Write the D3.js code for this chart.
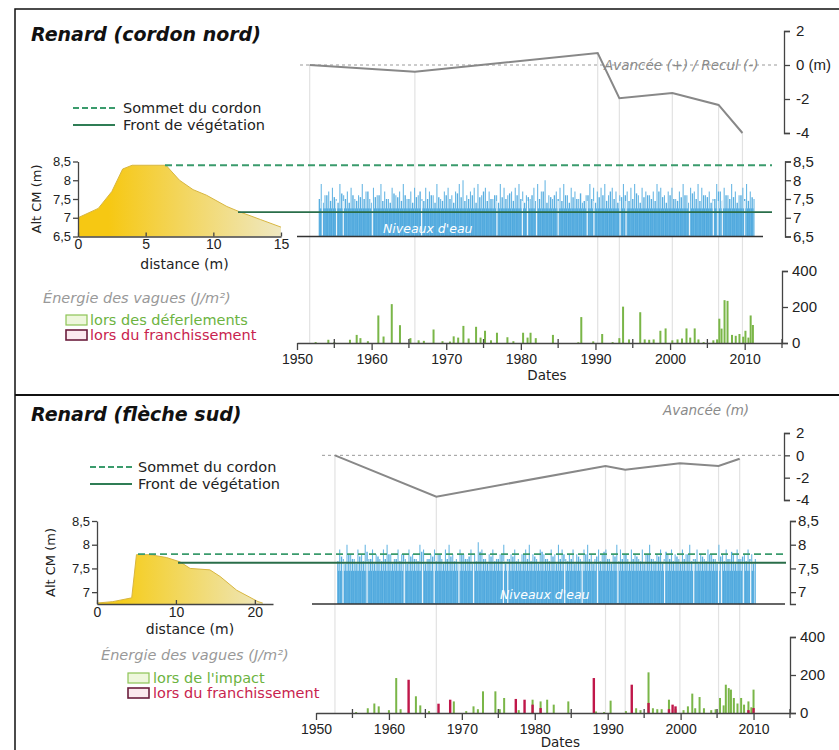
<!DOCTYPE html>
<html>
<head>
<meta charset="utf-8">
<script src="https://cdn.jsdelivr.net/npm/d3@7"></script>
<style>
  body { margin: 0; background: #fff; }
  svg { font-family: "DejaVu Sans", "Liberation Sans", Arial, sans-serif; }
  .axis path, .axis line { stroke: #444; stroke-width: 1.3; }
  .axis text { fill: #222; font-size: 14px; }
</style>
</head>
<body>
<div id="chart"></div>
<script>
// ---------- tick labels (shared)
const dateTicks = [1950, 1960, 1970, 1980, 1990, 2000, 2010];
const minorDateTicks = [1955, 1965, 1975, 1985, 1995, 2005, 2015];
const shoreTicks = [2, 0, -2, -4];
const energyTicks = [0, 200, 400];

// ---------- panel 1 : cordon nord
const nordShoreYears = [1951.7, 1965.8, 1990.3, 1993.2, 2000.3, 2006.5, 2009.7];
const nordShoreValues = [0, -0.4, 0.7, -1.95, -1.65, -2.35, -4.0];

const nordProfileDist = [0, 1.5, 2.5, 3.3, 4, 6.5, 7.5, 8.5, 9.5, 11, 12, 13.5, 15];
const nordProfileAlt = [7.0, 7.25, 7.7, 8.3, 8.4, 8.4, 8.0, 7.75, 7.6, 7.3, 7.15, 6.95, 6.75];
const nordAltTicks = [6.5, 7, 7.5, 8, 8.5];
const nordDistTicks = [0, 5, 10, 15];

const nordCrest = 8.4;
const nordVegetation = 7.15;

// water levels : a high peak and a lower one every half year from 1953, over a base level
const nordWaterStart = 1953;
const nordWaterBase = 7.25;
const nordWaterPeaks = [
  7.9, 7.6, 7.7, 7.8, 7.5, 7.9, 7.6, 7.7, 7.8, 7.5, 7.6, 7.9, 7.7, 7.5, 7.8, 7.6,
  7.9, 7.7, 7.5, 7.8, 7.6, 7.7, 7.9, 7.5, 7.7, 7.8, 7.6, 7.5, 7.8, 7.7, 7.6, 7.9,
  7.5, 7.7, 7.8, 7.6, 7.7, 7.9, 8.0, 7.6, 7.7, 7.8, 7.9, 7.6, 7.8, 7.7, 7.5, 7.6,
  7.9, 7.8, 7.6, 7.7, 7.8, 7.9, 7.7, 7.6, 7.5, 7.8, 7.9, 7.7, 8.0, 7.6, 7.5, 7.7,
  7.8, 7.9, 7.6, 7.8, 7.7, 7.5, 7.4, 7.6, 7.9, 7.8, 7.7, 7.8, 7.9, 7.6, 7.8, 7.7,
  7.6, 7.9, 7.7, 7.8, 7.9, 7.6, 7.8, 7.7, 7.6, 7.7, 7.9, 7.8, 7.6, 7.7, 7.8, 7.5,
  7.7, 7.9, 7.6, 7.8, 7.7, 7.9, 7.8, 7.6, 7.7, 7.5, 7.9, 7.7, 7.8, 7.6, 7.9, 7.7,
  7.6, 7.8, 7.9, 7.7, 7.5
];
const nordWaterLows = [
  7.5, 7.4, 7.6, 7.45, 7.55, 7.4, 7.65, 7.5, 7.4, 7.6, 7.45, 7.55, 7.5, 7.7, 7.4, 7.55,
  7.6, 7.45, 7.5, 7.4, 7.65, 7.55, 7.45, 7.6, 7.5, 7.4, 7.55, 7.7, 7.45, 7.5, 7.6, 7.4,
  7.55, 7.45, 7.6, 7.5, 7.4, 7.65, 7.55, 7.45, 7.5, 7.6, 7.4, 7.55, 7.7, 7.45, 7.5, 7.6,
  7.4, 7.55, 7.5, 7.65, 7.45, 7.6, 7.5, 7.4, 7.55, 7.6, 7.45, 7.5, 7.7, 7.4, 7.55, 7.6,
  7.5, 7.45, 7.6, 7.4, 7.55, 7.5, 7.65, 7.45, 7.6, 7.5, 7.4, 7.55, 7.6, 7.45, 7.7, 7.5,
  7.4, 7.55, 7.6, 7.45, 7.5, 7.65, 7.4, 7.55, 7.6, 7.5, 7.45, 7.7, 7.55, 7.4, 7.6, 7.5,
  7.45, 7.55, 7.6, 7.4, 7.65, 7.5, 7.45, 7.6, 7.55, 7.4, 7.5, 7.7, 7.45, 7.6, 7.5, 7.55,
  7.4, 7.6, 7.5, 7.45, 7.55
];
const nordWaterGaps = [1953.4, 1955.3, 1956.2, 1960.1, 1966.7, 1976.8, 1980.2, 1980.9, 1982.1,
  1985.0, 1988.9, 1989.8, 1993.3, 1994.1, 2002.6, 2005.8, 2006.4, 2007.0, 2010.0];

// wave energy (J/m²)
const nordBreakYears = [1952.5, 1954.2, 1955, 1957.1, 1958, 1958.5, 1959.5, 1960.9, 1961.6, 1962.7,
  1963.8, 1965.2, 1966.3, 1967, 1968.3, 1969.5, 1970.5, 1971, 1971.6, 1972.3, 1973, 1974, 1974.6,
  1975.2, 1976, 1976.8, 1978.2, 1979, 1980.3, 1980.9, 1981.3, 1982, 1984.3, 1987.7, 1988.1, 1989.7,
  1990.9, 1992.3, 1993.2, 1993.7, 1994.5, 1996, 1996.6, 1997.2, 1997.8, 1998.7, 1999.4, 2000.3,
  2001, 2001.6, 2002.2, 2002.7, 2003.3, 2003.8, 2004.5, 2005.8, 2006.3, 2006.6, 2006.9, 2007.3,
  2007.7, 2008.3, 2008.8, 2009.3, 2009.8, 2010.1, 2010.5, 2010.8, 2011.1];
const nordBreakValues = [5, 18, 5, 18, 45, 27, 10, 153, 36, 216,
  99, 27, 15, 12, 75, 10, 8, 37, 30, 95, 25, 90, 30,
  68, 15, 57, 32, 10, 57, 30, 57, 27, 45, 4, 144, 9,
  50, 5, 27, 202, 20, 171, 20, 18, 20, 68, 81, 15,
  20, 25, 81, 30, 81, 20, 5, 15, 20, 135, 80, 238,
  234, 45, 40, 50, 35, 68, 30, 153, 100];
const nordOverYears = [];
const nordOverValues = [];

// ---------- panel 2 : flèche sud
const sudShoreYears = [1952.6, 1966.5, 1989.7, 1992.4, 1999.9, 2005.2, 2008.1];
const sudShoreValues = [0, -3.7, -0.95, -1.3, -0.7, -0.95, -0.3];

const sudProfileDist = [0, 2, 4.4, 5.0, 6.7, 8.8, 10.5, 11.8, 14.3, 15.6, 17.7, 20.4, 21];
const sudProfileAlt = [6.77, 6.8, 6.88, 7.79, 7.79, 7.73, 7.64, 7.5, 7.47, 7.33, 7.04, 6.8, 6.77];
const sudAltTicks = [7, 7.5, 8, 8.5];
const sudDistTicks = [0, 10, 20];

const sudCrest = 7.8;
const sudVegetation = 7.62;

const sudWaterStart = 1953;
const sudWaterBase = 7.45;
const sudWaterPeaks = [
  7.9, 7.7, 8.0, 7.8, 7.7, 7.9, 7.8, 8.0, 7.7, 7.9, 7.8, 7.7, 7.9, 8.0, 7.8, 7.7,
  7.9, 7.8, 7.7, 7.9, 7.8, 7.7, 8.0, 7.9, 7.7, 7.8, 7.9, 7.8, 7.7, 7.9, 8.0, 7.8,
  7.7, 7.9, 7.8, 7.7, 7.9, 7.8, 8.05, 7.9, 7.7, 7.8, 7.9, 7.7, 7.8, 8.0, 7.7, 7.8,
  7.9, 7.7, 7.8, 7.9, 8.0, 7.8, 7.7, 7.9, 7.8, 7.7, 7.9, 7.8, 8.0, 7.9, 7.7, 7.8,
  7.9, 7.8, 7.7, 7.9, 8.0, 7.8, 7.7, 7.9, 7.8, 7.9, 7.7, 7.8, 8.0, 7.9, 7.8, 7.7,
  7.9, 7.8, 7.7, 7.9, 7.8, 8.0, 7.7, 7.8, 7.9, 7.7, 7.8, 7.9, 7.8, 7.7, 7.9, 7.8,
  8.0, 7.7, 7.9, 7.8, 7.7, 7.9, 7.8, 7.7, 8.0, 7.8, 7.9, 7.7, 7.8, 7.9, 7.7, 7.8,
  7.9, 7.8, 7.7
];
const sudWaterLows = [
  7.65, 7.75, 7.6, 7.8, 7.7, 7.6, 7.75, 7.65, 7.85, 7.7, 7.6, 7.75, 7.65, 7.7, 7.8, 7.6,
  7.7, 7.65, 7.8, 7.6, 7.75, 7.7, 7.65, 7.85, 7.6, 7.7, 7.75, 7.65, 7.8, 7.6, 7.7, 7.75,
  7.65, 7.6, 7.8, 7.7, 7.75, 7.6, 7.65, 7.85, 7.7, 7.6, 7.75, 7.65, 7.7, 7.8, 7.6, 7.7,
  7.75, 7.65, 7.6, 7.8, 7.7, 7.65, 7.75, 7.6, 7.85, 7.7, 7.65, 7.75, 7.6, 7.7, 7.8, 7.65,
  7.7, 7.6, 7.75, 7.65, 7.8, 7.7, 7.6, 7.75, 7.65, 7.85, 7.7, 7.6, 7.75, 7.65, 7.7, 7.8,
  7.6, 7.7, 7.75, 7.65, 7.6, 7.8, 7.7, 7.65, 7.75, 7.6, 7.85, 7.7, 7.65, 7.75, 7.6, 7.7,
  7.8, 7.65, 7.7, 7.6, 7.75, 7.65, 7.8, 7.7, 7.6, 7.75, 7.65, 7.7, 7.85, 7.6, 7.7, 7.75,
  7.65, 7.7, 7.6
];
const sudWaterGaps = [1953.7, 1957.0, 1962.1, 1964.6, 1966.2, 1969.6, 1971.6, 1975.7, 1976.3,
  1984.1, 1986.5, 1988.6, 1991.4, 1997.8, 2001.8, 2005.2, 2005.6, 2008.6, 2009.6];

const sudImpactYears = [1955.5, 1957.1, 1958, 1958.6, 1960, 1961, 1961.6, 1963.7, 1964.3, 1965.5,
  1968.9, 1970.6, 1971.6, 1972.2, 1972.9, 1974.6, 1975.2, 1975.8, 1977.8, 1979.7, 1980.8, 1981.7,
  1982.6, 1984.6, 1988.4, 1989.5, 1990.4, 1992.5, 1993.9, 1994.5, 1995.6, 1996.2, 1996.8, 1997.4,
  1998.4, 1999.3, 2000.4, 2001, 2001.6, 2002, 2002.6, 2003.2, 2004.2, 2004.8, 2005.4, 2005.9,
  2006.2, 2006.6, 2006.9, 2007.3, 2007.8, 2008.3, 2008.7, 2009.3, 2009.7, 2010];
const sudImpactValues = [5, 25, 50, 35, 15, 184, 20, 88, 40, 10,
  61, 10, 35, 20, 114, 114, 20, 79, 15, 70, 61, 70,
  44, 61, 8, 5, 65, 10, 25, 15, 214, 25, 20, 20,
  70, 20, 15, 35, 102, 25, 84, 25, 15, 20, 79, 40,
  149, 131, 123, 79, 50, 79, 44, 61, 30, 123];
const sudOverYears = [1962.7, 1966.8, 1968.4, 1977.4, 1978.6, 1979.7, 1980.8, 1988.1, 1993.3, 1995.6,
  1998.4, 1998.9, 1999.3, 2009.3, 2010];
const sudOverValues = [175, 49, 70, 74, 70, 44, 26, 184, 149, 53, 20, 44, 35, 15, 26];

// ---------- layout
const width = 839, height = 750;
const comma = d => String(d).replace('.', ',');

const svg = d3.select('#chart').append('svg')
    .attr('width', width)
    .attr('height', height);

const defs = svg.append('defs');

// frame + separator
svg.append('rect')
    .attr('x', 15).attr('y', 9)
    .attr('width', 840).attr('height', 760)
    .attr('fill', 'none').attr('stroke', '#111').attr('stroke-width', 1.5);
svg.append('line')
    .attr('x1', 15).attr('x2', width).attr('y1', 395).attr('y2', 395)
    .attr('stroke', '#111').attr('stroke-width', 2);

const panels = [
  {
    id: 'nord',
    title: 'Renard (cordon nord)', titleY: 41,
    x: d3.scaleLinear().domain([1950, 2015]).range([297, 782]),
    shoreY: d3.scaleLinear().domain([-4, 2]).range([133, 31]),
    shoreAxisX: 784, zeroX: [300, 778],
    shoreLabel: 'Avancée (+) / Recul (-)', shoreLabelX: 604, shoreLabelY: 70,
    shoreYears: nordShoreYears, shoreValues: nordShoreValues, zeroUnit: true,
    legendX: 73, legendY: 108, legendTextX: 123,
    profX: d3.scaleLinear().domain([0, 15]).range([78, 281]),
    altY: d3.scaleLinear().domain([6.5, 8.5]).range([236.5, 161.5]),
    profDist: nordProfileDist, profAlt: nordProfileAlt,
    altTicks: nordAltTicks, distTicks: nordDistTicks,
    altLabelX: 41, distLabelY: 269,
    waterAxisX: 785, waterTicks: nordAltTicks,
    crest: nordCrest, vegetation: nordVegetation,
    crestX0: 165, vegX0: 238, linesX1: 772,
    baseX: [297, 763],
    waterStart: nordWaterStart, waterBase: nordWaterBase,
    waterPeaks: nordWaterPeaks, waterLows: nordWaterLows,
    waterEnd: 2011.2, waterGaps: nordWaterGaps,
    waterLabelX: 383, waterLabelY: 233,
    energyY: d3.scaleLinear().domain([0, 400]).range([343, 271]),
    dateAxisY: 343, datesLabelY: 380,
    greenYears: nordBreakYears, greenValues: nordBreakValues,
    redYears: nordOverYears, redValues: nordOverValues,
    energyLegendX: 43, energyLegendY: 303, boxX: 66, boxY: 315, boxTextX: 90,
    greenLabel: 'lors des déferlements',
    gradient: ['#f6c813', '#efe8c2']
  },
  {
    id: 'sud',
    title: 'Renard (flèche sud)', titleY: 421,
    x: d3.scaleLinear().domain([1950, 2015]).range([316, 790]),
    shoreY: d3.scaleLinear().domain([-4, 2]).range([500, 433]),
    shoreAxisX: 784, zeroX: [322, 782],
    shoreLabel: 'Avancée (m)', shoreLabelX: 663, shoreLabelY: 415,
    shoreYears: sudShoreYears, shoreValues: sudShoreValues, zeroUnit: false,
    legendX: 90, legendY: 467, legendTextX: 138,
    profX: d3.scaleLinear().domain([0, 22.3]).range([97, 273]),
    altY: d3.scaleLinear().domain([6.75, 8.5]).range([604, 521]),
    profDist: sudProfileDist, profAlt: sudProfileAlt,
    altTicks: sudAltTicks, distTicks: sudDistTicks,
    altLabelX: 55, distLabelY: 634,
    waterAxisX: 790, waterTicks: sudAltTicks,
    crest: sudCrest, vegetation: sudVegetation,
    crestX0: 138, vegX0: 178, linesX1: 786,
    baseX: [312, 785],
    waterStart: sudWaterStart, waterBase: sudWaterBase,
    waterPeaks: sudWaterPeaks, waterLows: sudWaterLows,
    waterEnd: 2010.1, waterGaps: sudWaterGaps,
    waterLabelX: 500, waterLabelY: 599,
    energyY: d3.scaleLinear().domain([0, 400]).range([713, 637]),
    dateAxisY: 713, datesLabelY: 747,
    greenYears: sudImpactYears, greenValues: sudImpactValues,
    redYears: sudOverYears, redValues: sudOverValues,
    energyLegendX: 101, energyLegendY: 660, boxX: 128, boxY: 673, boxTextX: 153,
    greenLabel: "lors de l'impact",
    gradient: ['#f5cd1c', '#eee6bb']
  }
];

panels.forEach(drawPanel);

function drawPanel(p) {
  const g = svg.append('g').attr('class', 'panel-' + p.id);
  const x = p.x;

  // title
  g.append('text')
      .attr('x', 31).attr('y', p.titleY)
      .attr('font-size', 19).attr('font-weight', 'bold').attr('font-style', 'italic')
      .attr('fill', '#111')
      .text(p.title);

  // survey lines (behind everything)
  const shore = p.shoreYears.map((yr, i) => ({ year: yr, value: p.shoreValues[i] }));
  g.selectAll('.survey')
      .data(shore)
    .enter().append('line')
      .attr('class', 'survey')
      .attr('x1', d => x(d.year)).attr('x2', d => x(d.year))
      .attr('y1', d => p.shoreY(d.value)).attr('y2', p.dateAxisY)
      .attr('stroke', '#e2e2e2').attr('stroke-width', 1.2);

  // ---- shoreline evolution
  g.append('line')
      .attr('x1', p.zeroX[0]).attr('x2', p.zeroX[1])
      .attr('y1', p.shoreY(0)).attr('y2', p.shoreY(0))
      .attr('stroke', '#999').attr('stroke-width', 1).attr('stroke-dasharray', '3,3');

  g.append('path')
      .datum(shore)
      .attr('fill', 'none').attr('stroke', '#888').attr('stroke-width', 2)
      .attr('d', d3.line().x(d => x(d.year)).y(d => p.shoreY(d.value)));

  g.append('text')
      .attr('x', p.shoreLabelX).attr('y', p.shoreLabelY)
      .attr('font-size', 13.5).attr('font-style', 'italic').attr('fill', '#8a8a8a')
      .text(p.shoreLabel);

  const shoreAxis = g.append('g')
      .attr('class', 'axis')
      .attr('transform', 'translate(' + p.shoreAxisX + ',0)')
      .call(d3.axisRight(p.shoreY).tickValues(shoreTicks).tickSize(6).tickPadding(6)
        .tickFormat(d => (d === 0 && p.zeroUnit) ? '0 (m)' : d));
  shoreAxis.selectAll('text').style('font-size', '15px');

  // ---- legend for crest / vegetation
  const leg = g.append('g');
  leg.append('line')
      .attr('x1', p.legendX).attr('x2', p.legendX + 42)
      .attr('y1', p.legendY).attr('y2', p.legendY)
      .attr('stroke', '#3a9b6c').attr('stroke-width', 1.8).attr('stroke-dasharray', '6,3');
  leg.append('line')
      .attr('x1', p.legendX).attr('x2', p.legendX + 42)
      .attr('y1', p.legendY + 17).attr('y2', p.legendY + 17)
      .attr('stroke', '#2f7d55').attr('stroke-width', 1.8);
  leg.append('text')
      .attr('x', p.legendTextX).attr('y', p.legendY + 5)
      .attr('font-size', 14.5).attr('fill', '#222')
      .text('Sommet du cordon');
  leg.append('text')
      .attr('x', p.legendTextX).attr('y', p.legendY + 22)
      .attr('font-size', 14.5).attr('fill', '#222')
      .text('Front de végétation');

  // ---- cross-shore profile
  const grad = defs.append('linearGradient')
      .attr('id', 'grad-' + p.id)
      .attr('x1', '0%').attr('x2', '100%').attr('y1', '0%').attr('y2', '0%');
  grad.append('stop').attr('offset', '15%').attr('stop-color', p.gradient[0]);
  grad.append('stop').attr('offset', '100%').attr('stop-color', p.gradient[1]);

  const prof = p.profDist.map((d, i) => ({ d: d, z: p.profAlt[i] }));
  const altMin = p.altY.domain()[0];
  g.append('path')
      .datum(prof)
      .attr('fill', 'url(#grad-' + p.id + ')')
      .attr('d', d3.area().x(d => p.profX(d.d)).y0(p.altY(altMin)).y1(d => p.altY(d.z)));
  g.append('path')
      .datum(prof)
      .attr('fill', 'none').attr('stroke', '#d8b640').attr('stroke-width', 1)
      .attr('d', d3.line().x(d => p.profX(d.d)).y(d => p.altY(d.z)));

  const altAxis = g.append('g')
      .attr('class', 'axis')
      .attr('transform', 'translate(' + p.profX.range()[0] + ',0)')
      .call(d3.axisLeft(p.altY).tickValues(p.altTicks).tickSize(5).tickPadding(2)
        .tickSizeOuter(0).tickFormat(comma));
  altAxis.selectAll('text').style('font-size', '13px');
  const distAxis = g.append('g')
      .attr('class', 'axis')
      .attr('transform', 'translate(0,' + p.altY(altMin) + ')')
      .call(d3.axisBottom(p.profX).tickValues(p.distTicks).tickSize(-4).tickPadding(3)
        .tickSizeOuter(0));
  distAxis.selectAll('text').style('font-size', '14px');

  g.append('text')
      .attr('transform', 'translate(' + p.altLabelX + ',' + ((p.altY.range()[0] + p.altY.range()[1]) / 2) + ') rotate(-90)')
      .attr('text-anchor', 'middle').attr('font-size', 13).attr('fill', '#222')
      .text('Alt CM (m)');
  g.append('text')
      .attr('x', (p.profX.range()[0] + p.profX.range()[1]) / 2 + 5).attr('y', p.distLabelY)
      .attr('text-anchor', 'middle').attr('font-size', 14).attr('fill', '#222')
      .text('distance (m)');

  // ---- water levels
  const peaks = p.waterPeaks.map((v, i) => ({ year: p.waterStart + i * 0.5 + 0.25, value: v }));
  const lows = p.waterLows.map((v, i) => ({ year: p.waterStart + i * 0.5, value: v }));
  g.append('rect')
      .attr('x', x(p.waterStart)).attr('width', x(p.waterEnd) - x(p.waterStart))
      .attr('y', p.altY(p.waterBase)).attr('height', p.altY(altMin) - p.altY(p.waterBase))
      .attr('fill', '#4aa6dc');
  g.selectAll('.low')
      .data(lows)
    .enter().append('line')
      .attr('class', 'low')
      .attr('x1', d => x(d.year)).attr('x2', d => x(d.year))
      .attr('y1', p.altY(altMin)).attr('y2', d => p.altY(d.value))
      .attr('stroke', '#5aaee0').attr('stroke-width', 1.4);
  g.selectAll('.peak')
      .data(peaks)
    .enter().append('line')
      .attr('class', 'peak')
      .attr('x1', d => x(d.year)).attr('x2', d => x(d.year))
      .attr('y1', p.altY(altMin)).attr('y2', d => p.altY(d.value))
      .attr('stroke', '#6bb8e4').attr('stroke-width', 1.1);
  g.selectAll('.gap')
      .data(p.waterGaps)
    .enter().append('line')
      .attr('class', 'gap')
      .attr('x1', d => x(d)).attr('x2', d => x(d))
      .attr('y1', p.altY(altMin) - 1).attr('y2', p.altY(p.waterBase + 0.2))
      .attr('stroke', '#fff').attr('stroke-width', 1.2).attr('opacity', 0.9);

  g.append('text')
      .attr('x', p.waterLabelX).attr('y', p.waterLabelY)
      .attr('font-size', 12.5).attr('font-style', 'italic').attr('fill', '#fff')
      .text("Niveaux d'eau");

  // crest and vegetation lines across profile and water levels
  g.append('line')
      .attr('x1', p.crestX0).attr('x2', p.linesX1)
      .attr('y1', p.altY(p.crest)).attr('y2', p.altY(p.crest))
      .attr('stroke', '#3a9b6c').attr('stroke-width', 1.8).attr('stroke-dasharray', '7,4');
  g.append('line')
      .attr('x1', p.vegX0).attr('x2', p.linesX1)
      .attr('y1', p.altY(p.vegetation)).attr('y2', p.altY(p.vegetation))
      .attr('stroke', '#2a6e4a').attr('stroke-width', 1.8);
  g.append('line')
      .attr('x1', p.baseX[0]).attr('x2', p.baseX[1])
      .attr('y1', p.altY(altMin)).attr('y2', p.altY(altMin))
      .attr('stroke', '#333').attr('stroke-width', 1.5);

  const waterAxis = g.append('g')
      .attr('class', 'axis')
      .attr('transform', 'translate(' + p.waterAxisX + ',0)')
      .call(d3.axisRight(p.altY.copy()).tickValues(p.waterTicks).tickSize(6).tickPadding(2)
        .tickFormat(comma));
  waterAxis.selectAll('text').style('font-size', '15px');

  // ---- wave energy
  g.append('text')
      .attr('x', p.energyLegendX).attr('y', p.energyLegendY)
      .attr('font-size', 14.5).attr('font-style', 'italic').attr('fill', '#999')
      .text('Énergie des vagues (J/m²)');
  g.append('rect')
      .attr('x', p.boxX).attr('y', p.boxY).attr('width', 21).attr('height', 10)
      .attr('fill', '#eef7dc').attr('stroke', '#8dc455').attr('stroke-width', 1.2);
  g.append('rect')
      .attr('x', p.boxX).attr('y', p.boxY + 15).attr('width', 21).attr('height', 10)
      .attr('fill', '#fbe9ee').attr('stroke', '#6b1d3c').attr('stroke-width', 1.6);
  g.append('text')
      .attr('x', p.boxTextX).attr('y', p.boxY + 10)
      .attr('font-size', 14.5).attr('fill', '#6cb33f')
      .text(p.greenLabel);
  g.append('text')
      .attr('x', p.boxTextX).attr('y', p.boxY + 25)
      .attr('font-size', 14.5).attr('fill', '#c8234e')
      .text('lors du franchissement');

  const green = p.greenYears.map((yr, i) => ({ year: yr, value: p.greenValues[i] }));
  const red = p.redYears.map((yr, i) => ({ year: yr, value: p.redValues[i] }));

  g.selectAll('.green')
      .data(green)
    .enter().append('rect')
      .attr('class', 'green')
      .attr('x', d => x(d.year) - 1).attr('width', 2)
      .attr('y', d => p.energyY(d.value)).attr('height', d => p.energyY(0) - p.energyY(d.value))
      .attr('fill', '#7ab648');
  g.selectAll('.red')
      .data(red)
    .enter().append('rect')
      .attr('class', 'red')
      .attr('x', d => x(d.year) - 1.2).attr('width', 2.4)
      .attr('y', d => p.energyY(d.value)).attr('height', d => p.energyY(0) - p.energyY(d.value))
      .attr('fill', '#c0174a');

  const energyAxis = g.append('g')
      .attr('class', 'axis')
      .attr('transform', 'translate(' + x.range()[1] + ',0)')
      .call(d3.axisRight(p.energyY).tickValues(energyTicks).tickSize(6).tickPadding(4));
  energyAxis.selectAll('text').style('font-size', '15px');

  // date axis
  g.append('g')
      .attr('class', 'axis')
      .attr('transform', 'translate(0,' + p.dateAxisY + ')')
      .call(d3.axisBottom(x).tickValues(dateTicks).tickSize(7).tickPadding(4)
        .tickSizeOuter(0).tickFormat(d3.format('d')));
  g.selectAll('.minor')
      .data(minorDateTicks)
    .enter().append('line')
      .attr('class', 'minor')
      .attr('x1', d => x(d)).attr('x2', d => x(d))
      .attr('y1', p.dateAxisY - 4).attr('y2', p.dateAxisY + 5)
      .attr('stroke', '#444').attr('stroke-width', 1.3);
  g.append('text')
      .attr('x', x(1983.5)).attr('y', p.datesLabelY)
      .attr('text-anchor', 'middle').attr('font-size', 13.5).attr('fill', '#222')
      .text('Dates');
}
</script>
</body>
</html>
